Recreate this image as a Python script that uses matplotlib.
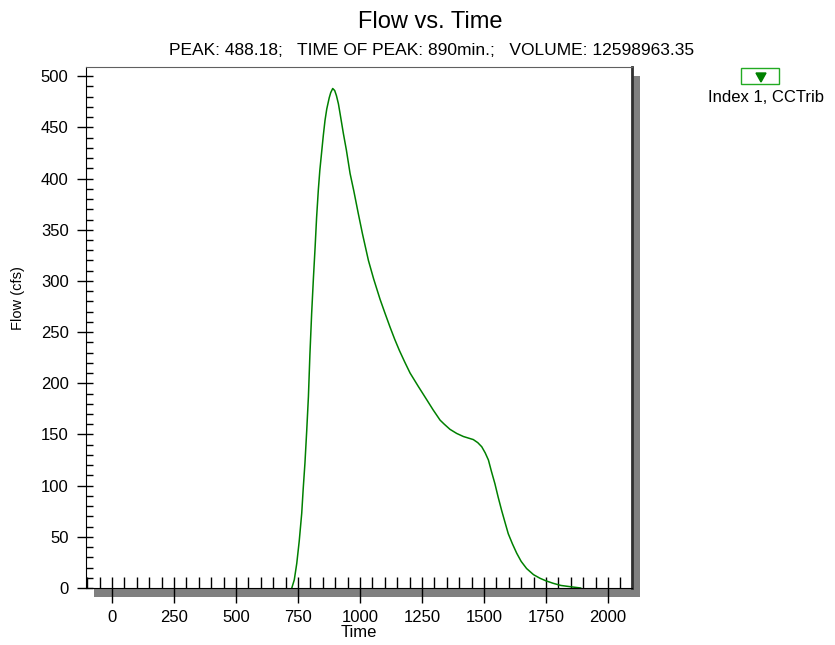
import matplotlib
matplotlib.use('Agg')
import matplotlib.pyplot as plt
from matplotlib.patches import Rectangle, Polygon
from matplotlib.ticker import MultipleLocator

plt.rcParams['font.family'] = ['Liberation Sans', 'DejaVu Sans']

# hydrograph (time in min, flow in cfs)
time_min = [725, 735, 745, 755, 765, 771, 778, 785, 792, 798, 805, 812,
            819, 825, 832, 838, 845, 852, 859, 866, 876, 882, 890, 898,
            905, 913, 920, 933, 945, 960, 975, 993, 1010, 1034, 1055, 1081,
            1100, 1121, 1140, 1159, 1180, 1202, 1235, 1269, 1295, 1323,
            1340, 1363, 1390, 1417, 1437, 1457, 1475, 1491, 1505, 1518,
            1530, 1544, 1557, 1571, 1585, 1598, 1615, 1632, 1650, 1672,
            1700, 1726, 1750, 1779, 1810, 1847, 1890]
flow_cfs = [0, 8, 24, 46, 73, 97, 122, 153, 187, 228, 268, 302,
            333, 362, 389, 408, 425, 442, 457, 468, 479, 484, 488, 486,
            481, 473, 463, 444, 428, 405, 388, 366, 346, 320, 302, 282,
            269, 255, 243, 232, 221, 210, 197, 184, 174, 164,
            160, 155, 151, 148, 146.5, 145, 142, 138, 132, 125,
            114, 102, 89, 76, 64, 53, 43, 34, 26, 19,
            13, 9.5, 7, 4.6, 2.5, 1.3, 0]

title = 'Flow vs. Time'
subtitle = 'PEAK: 488.18;   TIME OF PEAK: 890min.;   VOLUME: 12598963.35'
series_name = 'Index 1, CCTrib'

W, H = 835, 645
fig = plt.figure(figsize=(W / 100, H / 100), dpi=100)

# axes box in pixels
x0, x1, y0, y1 = 86, 632, 67, 588


def fx(px):
    return px / W


def fy(py):
    return 1 - py / H


# drop shadow behind the plot frame
fig.patches.append(Rectangle((fx(x0 + 8), fy(y1 + 9)), fx(x1 - x0), (y1 - y0) / H,
                             transform=fig.transFigure, facecolor='#808080',
                             edgecolor='none', zorder=0))

ax = fig.add_axes([fx(x0), fy(y1), fx(x1 - x0), (y1 - y0) / H], zorder=1)
ax.set_facecolor('white')
ax.plot(time_min, flow_cfs, color='#008000', linewidth=1.1)

ax.set_xlim(-105, 2097)
ax.set_ylim(0, 509)
ax.xaxis.set_major_locator(MultipleLocator(250))
ax.xaxis.set_minor_locator(MultipleLocator(50))
ax.yaxis.set_major_locator(MultipleLocator(50))
ax.yaxis.set_minor_locator(MultipleLocator(10))
ax.xaxis.remove_overlapping_locs = False
ax.yaxis.remove_overlapping_locs = False

ax.tick_params(axis='x', which='major', direction='out', length=11, width=1,
               pad=5, labelsize=12)
ax.tick_params(axis='x', which='minor', direction='in', length=8, width=1)
ax.tick_params(axis='y', which='major', direction='out', length=6.5, width=1,
               pad=6, labelsize=12)
ax.tick_params(axis='y', which='minor', direction='in', length=5, width=1)

ax.spines['left'].set_color('black')
ax.spines['bottom'].set_color('black')
ax.spines['top'].set_color('#606060')
ax.spines['right'].set_color('#303030')
ax.spines['right'].set_linewidth(2)

ax.set_xlabel('Time', fontsize=12, labelpad=0)
fig.text(fx(18), fy(298), 'Flow (cfs)', rotation=90, ha='center', va='center',
         fontsize=10.5)

fig.text(fx(430), fy(28), title, ha='center', va='baseline', fontsize=17)
fig.text(fx(432), fy(55), subtitle, ha='center', va='baseline', fontsize=12.5)

# legend swatch: box with a down triangle, name below
fig.patches.append(Rectangle((fx(741), fy(84)), fx(38), 16 / H,
                             transform=fig.transFigure, facecolor='white',
                             edgecolor='#22aa22', linewidth=1))
fig.patches.append(Polygon([(fx(756), fy(73)), (fx(766), fy(73)), (fx(761), fy(82))],
                           closed=True, transform=fig.transFigure,
                           facecolor='#008000', edgecolor='#008000'))
fig.text(fx(766), fy(102), series_name, ha='center', va='baseline', fontsize=12)

fig.savefig('out.png', dpi=100)
